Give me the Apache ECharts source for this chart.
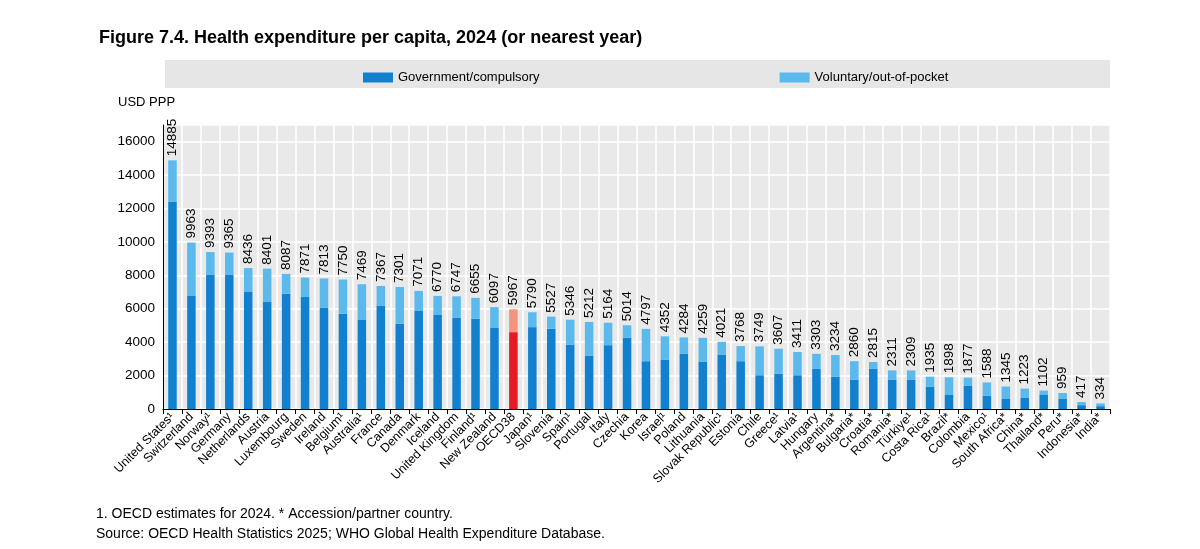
<!DOCTYPE html>
<html>
<head>
<meta charset="UTF-8">
<title>Health expenditure per capita</title>
<script src="https://cdn.jsdelivr.net/npm/echarts@6/dist/echarts.min.js"></script>
<style>html,body{margin:0;padding:0;background:#fff}#main{width:1200px;height:549px}</style>
</head>
<body>
<div id="main"></div>
<script>
    var countries = ['United States¹','Switzerland','Norway¹','Germany','Netherlands','Austria','Luxembourg','Sweden','Ireland','Belgium¹',
        'Australia¹','France','Canada','Denmark','Iceland','United Kingdom','Finland¹','New Zealand','OECD38','Japan¹',
        'Slovenia','Spain¹','Portugal','Italy','Czechia','Korea','Israel¹','Poland','Lithuania','Slovak Republic¹',
        'Estonia','Chile','Greece¹','Latvia¹','Hungary','Argentina*','Bulgaria*','Croatia*','Romania*','Türkiye¹',
        'Costa Rica¹','Brazil*','Colombia','Mexico¹','South Africa*','China*','Thailand*','Peru*','Indonesia*','India*'];
    var totals = [14885,9963,9393,9365,8436,8401,8087,7871,7813,7750,
        7469,7367,7301,7071,6770,6747,6655,6097,5967,5790,
        5527,5346,5212,5164,5014,4797,4352,4284,4259,4021,
        3768,3749,3607,3411,3303,3234,2860,2815,2311,2309,
        1935,1898,1877,1588,1345,1223,1102,959,417,334];
    var government = [12400,6800,8050,8050,7000,6400,6900,6700,6050,5700,
        5350,6200,5100,5900,5650,5450,5400,4850,4600,4900,
        4800,3860,3200,3820,4260,2860,2960,3300,2820,3260,
        2860,2020,2120,2020,2400,1940,1760,2400,1740,1740,
        1340,840,1380,800,600,660,840,600,230,170];
    var highlight = 'OECD38';

    var voluntary = totals.map(function (t, i) { return t - government[i]; });

    var myChart = echarts.init(document.getElementById('main'));
    var option = {
        animation: false,
        textStyle: {fontFamily: 'Arial, Liberation Sans, sans-serif'},
        title: {
            text: 'Figure 7.4. Health expenditure per capita, 2024 (or nearest year)',
            left: 94, top: 24,
            textStyle: {fontSize: 18, fontWeight: 'bold', color: '#000'}
        },
        graphic: [
            {type: 'rect', shape: {x: 165, y: 60, width: 945, height: 28}, style: {fill: '#e6e6e6'}, z: -1},
            {type: 'text', left: 118, top: 96, style: {text: 'USD PPP', fontSize: 13, fill: '#000'}},
            {type: 'text', left: 96, top: 507, style: {text: '1. OECD estimates for 2024. * Accession/partner country.', fontSize: 14, fill: '#000'}},
            {type: 'text', left: 96, top: 527, style: {text: 'Source: OECD Health Statistics 2025; WHO Global Health Expenditure Database.', fontSize: 14, fill: '#000'}}
        ],
        legend: {
            top: 66,
            left: 358,
            itemGap: 240,
            itemWidth: 30,
            itemHeight: 10,
            icon: 'rect',
            textStyle: {fontSize: 13, color: '#000'},
            data: ['Government/compulsory', 'Voluntary/out-of-pocket']
        },
        grid: {left: 163, right: 90, top: 125, bottom: 140, show: true, backgroundColor: '#e9e9e9', borderWidth: 0},
        xAxis: {
            type: 'category',
            data: countries,
            axisLine: {lineStyle: {color: '#000'}},
            axisTick: {show: true, lineStyle: {color: '#000'}},
            axisLabel: {rotate: 45, interval: 0, fontSize: 12.5, color: '#000', margin: 6},
            splitLine: {show: true, lineStyle: {color: '#fff', width: 1.5}}
        },
        yAxis: {
            type: 'value',
            min: 0, max: 17000, interval: 2000,
            axisLine: {show: true, lineStyle: {color: '#000'}},
            axisLabel: {fontSize: 13.5, color: '#000', formatter: function (v) { return v > 16000 ? '' : v; }},
            splitLine: {lineStyle: {color: '#fff', width: 1.5}}
        },
        series: [
            {
                name: 'Government/compulsory',
                type: 'bar',
                stack: 'total',
                barWidth: '45%',
                itemStyle: {color: '#1080cf'},
                data: government.map(function (v, i) {
                    return countries[i] === highlight ? {value: v, itemStyle: {color: '#e31b23'}} : v;
                })
            },
            {
                name: 'Voluntary/out-of-pocket',
                type: 'bar',
                stack: 'total',
                itemStyle: {color: '#5cb9ec'},
                label: {
                    show: true, position: 'top', rotate: 90, align: 'left', verticalAlign: 'middle',
                    distance: 4, fontSize: 13.5, color: '#000',
                    formatter: function (p) { return totals[p.dataIndex]; }
                },
                data: voluntary.map(function (v, i) {
                    return countries[i] === highlight ? {value: v, itemStyle: {color: '#f4937e'}} : v;
                })
            }
        ]
    };
    myChart.setOption(option);
</script>
</body>
</html>
